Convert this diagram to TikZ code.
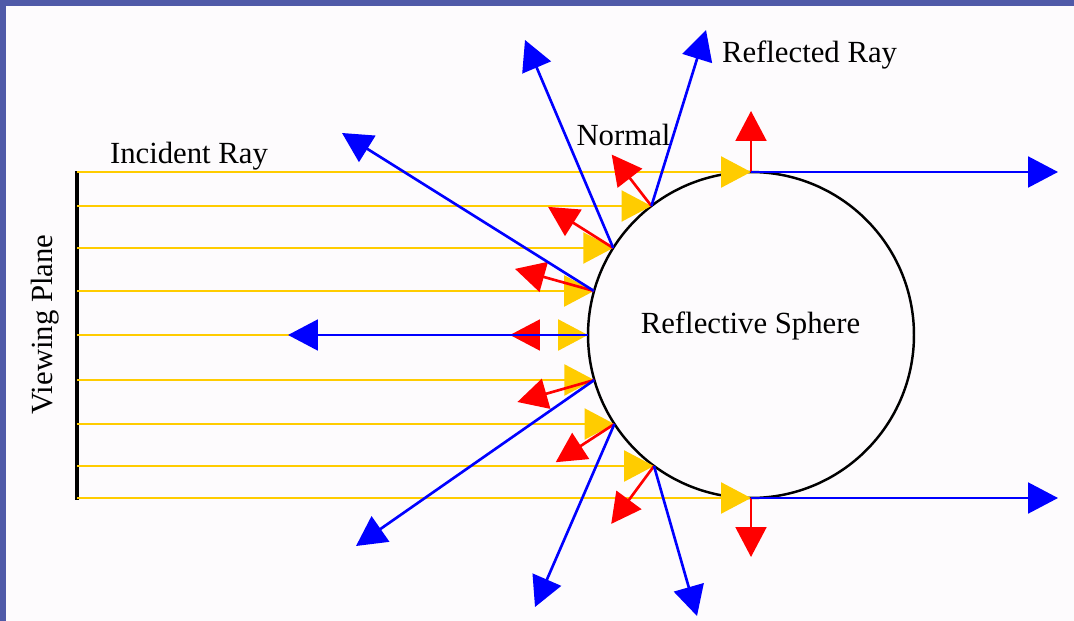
\documentclass[tikz,border=0pt]{standalone}
\usepackage{fontspec}
\setmainfont{Liberation Serif}
\usetikzlibrary{arrows.meta}
\definecolor{incyellow}{RGB}{255,204,0}
\definecolor{nrmred}{RGB}{255,0,0}
\definecolor{refblue}{RGB}{0,0,255}
\definecolor{slidebar}{RGB}{80,90,168}
\definecolor{slidebg}{RGB}{253,251,253}

\begin{document}
\begin{tikzpicture}[x=0.02cm, y=-0.02cm,
        headed/.style={-{Triangle[length=17pt, width=17.5pt]}},
        incident/.style={incyellow, line width=1.7pt, headed},
        normalray/.style={nrmred, line width=1.5pt, headed},
        reflected/.style={refblue, line width=1.5pt, headed},
        lbl/.style={font=\fontsize{17.5}{20}\selectfont},
        sphere/.style={circle, draw, line width=1.4pt, minimum size=6.52cm, inner sep=0pt}]
            % slide frame
            \fill[slidebg] (0, 0) rectangle (1074, 621);
            \fill[slidebar] (0, 0) rectangle (1074, 6);
            \fill[slidebar] (0, 0) rectangle (6, 621);
            \useasboundingbox (0, 0) rectangle (1074, 621);

            \node[sphere] (sph) at (751, 335) {};
            \node[lbl] (lblsph) at (750.5, 326) {Reflective Sphere};
            \node[lbl] (lblinc) at (189, 156) {Incident Ray};
            \node[lbl] (lblref) at (809.5, 55) {Reflected Ray};
            \node[lbl] (lblnrm) at (623.5, 134.5) {Normal};
            \node[lbl, rotate=90] (lblvp) at (45, 324.5) {Viewing Plane};

            % viewing plane and ray starts
            \coordinate (vpt) at (77, 171);
            \coordinate (vpb) at (77, 500);
            \coordinate (s1) at (77, 172);
            \coordinate (s2) at (77, 206);
            \coordinate (s3) at (77, 248);
            \coordinate (s4) at (77, 291);
            \coordinate (s5) at (77, 335);
            \coordinate (s6) at (77, 380);
            \coordinate (s7) at (77, 424);
            \coordinate (s8) at (77, 466);
            \coordinate (s9) at (77, 498);
            % hits on the sphere
            \coordinate (h1) at (751, 172);
            \coordinate (h2) at (651.4, 206);
            \coordinate (h3) at (613.2, 248);
            \coordinate (h4) at (594, 291);
            \coordinate (h5) at (588, 335);
            \coordinate (h6) at (594.3, 380);
            \coordinate (h7) at (614.4, 424);
            \coordinate (h8) at (654, 466);
            \coordinate (h9) at (751, 498);
            % normal tips
            \coordinate (n1) at (751, 111);
            \coordinate (n2) at (611.7, 154.6);
            \coordinate (n3) at (548.1, 206.9);
            \coordinate (n4) at (515, 268.9);
            \coordinate (n5) at (510, 335);
            \coordinate (n6) at (517.4, 402);
            \coordinate (n7) at (555.7, 462.2);
            \coordinate (n8) at (611.2, 523.9);
            \coordinate (n9) at (751, 557);
            % reflected tips
            \coordinate (r1) at (1058, 172);
            \coordinate (r2) at (706, 30);
            \coordinate (r3) at (525, 40);
            \coordinate (r4) at (342, 133);
            \coordinate (r5) at (288, 335);
            \coordinate (r6) at (356, 546);
            \coordinate (r7) at (535, 607);
            \coordinate (r8) at (697, 616);
            \coordinate (r9) at (1058, 498);

            \draw[line width=1.8pt] (vpt) -- (vpb);
            \path[incident]
                (s1) edge (h1)
                (s2) edge (h2)
                (s3) edge (h3)
                (s4) edge (h4)
                (s5) edge (h5)
                (s6) edge (h6)
                (s7) edge (h7)
                (s8) edge (h8)
                (s9) edge (h9)
            ;
            \path[normalray]
                (h1) edge (n1)
                (h2) edge (n2)
                (h3) edge (n3)
                (h4) edge (n4)
                (h5) edge (n5)
                (h6) edge (n6)
                (h7) edge (n7)
                (h8) edge (n8)
                (h9) edge (n9)
            ;
            \path[reflected]
                (h1) edge (r1)
                (h2) edge (r2)
                (h3) edge (r3)
                (h4) edge (r4)
                (h5) edge (r5)
                (h6) edge (r6)
                (h7) edge (r7)
                (h8) edge (r8)
                (h9) edge (r9)
            ;
        \end{tikzpicture}
\end{document}
